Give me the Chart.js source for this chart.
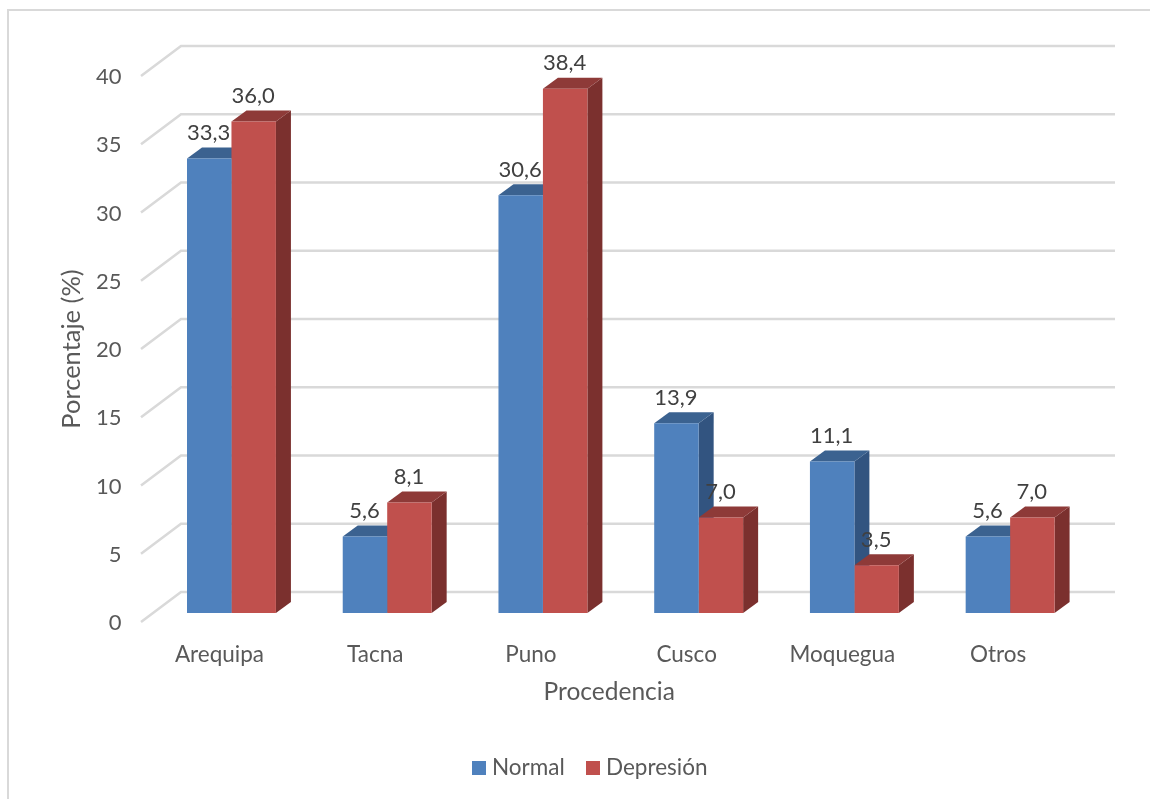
<!DOCTYPE html>
<html>
<head>
<meta charset="utf-8">
<style>
  html, body { margin: 0; padding: 0; background: #fff; }
  #wrap { position: absolute; left: 0; top: 0; width: 1150px; height: 799px; }
</style>
</head>
<body>
<div id="wrap"><canvas id="chart" width="1150" height="799"></canvas></div>
<script src="https://cdn.jsdelivr.net/npm/chart.js@4"></script>
<script>
// Data
const categories = ['Arequipa', 'Tacna', 'Puno', 'Cusco', 'Moquegua', 'Otros'];
const normal = [33.3, 5.6, 30.6, 13.9, 11.1, 5.6];
const depresion = [36.0, 8.1, 38.4, 7.0, 3.5, 7.0];
const yTicks = [0, 5, 10, 15, 20, 25, 30, 35, 40];
const xTitle = 'Procedencia';
const yTitle = 'Porcentaje (%)';

const FONT = 'Lato, "Open Sans", sans-serif';
const sideColors = ['#325480', '#7b302e'];
const topColors = ['#3b6290', '#8e3a38'];

// The 3D look: bars stand in the middle of a floor that runs from front to back
const depth = { x: 15, y: -11 };
const floorFront = { x: -12.6, y: 9 };
const floorBack = { x: 27.4, y: -21 };

// Wall gridlines and diagonal floor lines, drawn from the y scale
const wallPlugin = {
  id: 'wall',
  beforeDatasetsDraw(chart) {
    const { ctx, chartArea, scales } = chart;
    ctx.save();
    ctx.strokeStyle = '#d9d9d9';
    ctx.lineWidth = 2.5;
    yTicks.forEach(v => {
      const y = scales.y.getPixelForValue(v);
      ctx.beginPath();
      ctx.moveTo(chartArea.left + floorFront.x, y + floorFront.y);
      ctx.lineTo(chartArea.left + floorBack.x, y + floorBack.y);
      ctx.lineTo(chartArea.right + 27, y + floorBack.y);
      ctx.stroke();
    });
    ctx.restore();

    // sides and tops of the bars, series by series so red covers blue
    chart.data.datasets.forEach((ds, i) => {
      chart.getDatasetMeta(i).data.forEach(bar => {
        const p = bar.getProps(['x', 'y', 'base', 'width']);
        const l = p.x - p.width / 2, r = p.x + p.width / 2;
        ctx.fillStyle = sideColors[i];
        ctx.beginPath();
        ctx.moveTo(r, p.y);
        ctx.lineTo(r + depth.x, p.y + depth.y);
        ctx.lineTo(r + depth.x, p.base + depth.y);
        ctx.lineTo(r, p.base);
        ctx.closePath();
        ctx.fill();
        ctx.fillStyle = topColors[i];
        ctx.beginPath();
        ctx.moveTo(l, p.y);
        ctx.lineTo(l + depth.x, p.y + depth.y);
        ctx.lineTo(r + depth.x, p.y + depth.y);
        ctx.lineTo(r, p.y);
        ctx.closePath();
        ctx.fill();
      });
    });
  }
};

// Values above the bars, with decimal comma
const valueLabels = {
  id: 'valueLabels',
  afterDatasetsDraw(chart) {
    const { ctx } = chart;
    ctx.save();
    ctx.font = '22px ' + FONT;
    ctx.fillStyle = '#404040';
    ctx.textAlign = 'center';
    ctx.textBaseline = 'middle';
    chart.data.datasets.forEach((ds, i) => {
      chart.getDatasetMeta(i).data.forEach((bar, j) => {
        ctx.fillText(ds.data[j].toFixed(1).replace('.', ','), bar.x - 0.5, bar.y - 25.5);
      });
    });
    ctx.restore();
  }
};

// Frame: only the left and top edges show in the picture
const frame = {
  id: 'frame',
  beforeDraw(chart) {
    const { ctx, width, height } = chart;
    ctx.save();
    ctx.strokeStyle = '#d9d9d9';
    ctx.lineWidth = 2;
    ctx.beginPath();
    ctx.moveTo(8, height);
    ctx.lineTo(8, 10);
    ctx.lineTo(width, 10);
    ctx.stroke();
    ctx.restore();
  }
};

// Axis titles centred on the front edge of the floor, not on the chart area
const axisTitles = {
  id: 'axisTitles',
  afterDraw(chart) {
    const { ctx, chartArea } = chart;
    const midX = (chartArea.left + chartArea.right) / 2 + floorFront.x;
    const midY = (chartArea.top + chartArea.bottom) / 2 + floorFront.y;
    ctx.save();
    ctx.fillStyle = '#595959';
    ctx.textAlign = 'center';
    ctx.textBaseline = 'middle';
    ctx.font = '24.5px ' + FONT;
    ctx.fillText(xTitle, midX + 1, 692);
    ctx.translate(72, midY);
    ctx.rotate(-Math.PI / 2);
    ctx.font = '25.5px ' + FONT;
    ctx.fillText(yTitle, 0, 0);
    ctx.restore();
  }
};

// Legend drawn by hand, the box-to-text gap is tighter than the built-in one
const legendRow = {
  id: 'legendRow',
  afterDraw(chart) {
    const { ctx } = chart;
    ctx.save();
    ctx.font = '22.5px ' + FONT;
    ctx.textBaseline = 'middle';
    ctx.textAlign = 'left';
    let x = 472;
    chart.data.datasets.forEach(ds => {
      ctx.fillStyle = ds.backgroundColor;
      ctx.fillRect(x, 761, 14, 14);
      ctx.fillStyle = '#595959';
      ctx.fillText(ds.label, x + 20, 768);
      x += 114;
    });
    ctx.restore();
  }
};

new Chart(document.getElementById('chart'), {
  type: 'bar',
  data: {
    labels: categories,
    datasets: [
      { label: 'Normal', data: normal, backgroundColor: '#4f81bd' },
      { label: 'Depresión', data: depresion, backgroundColor: '#c0504d' }
    ]
  },
  plugins: [frame, wallPlugin, valueLabels, axisTitles, legendRow],
  options: {
    responsive: false,
    animation: false,
    layout: { padding: { left: 59, right: 62, top: 67, bottom: 92 } },
    datasets: { bar: { categoryPercentage: 0.571, barPercentage: 1 } },
    plugins: {
      tooltip: { enabled: false },
      legend: { display: false }
    },
    scales: {
      x: {
        grid: { display: false, drawTicks: false },
        border: { display: false },
        ticks: {
          color: '#595959',
          font: { family: FONT, size: 22.5 },
          padding: 28,
          labelOffset: -12,
          maxRotation: 0
        },
        afterFit(scale) { scale.height = 94; }
      },
      y: {
        min: 0,
        max: 40,
        afterBuildTicks(scale) { scale.ticks = yTicks.map(v => ({ value: v })); },
        grid: { display: false, drawTicks: false },
        border: { display: false },
        ticks: {
          color: '#595959',
          font: { family: FONT, size: 22 },
          padding: 32,
          labelOffset: 10
        },
        afterFit(scale) { scale.width = 94.6; }
      }
    }
  }
});
</script>
</body>
</html>
